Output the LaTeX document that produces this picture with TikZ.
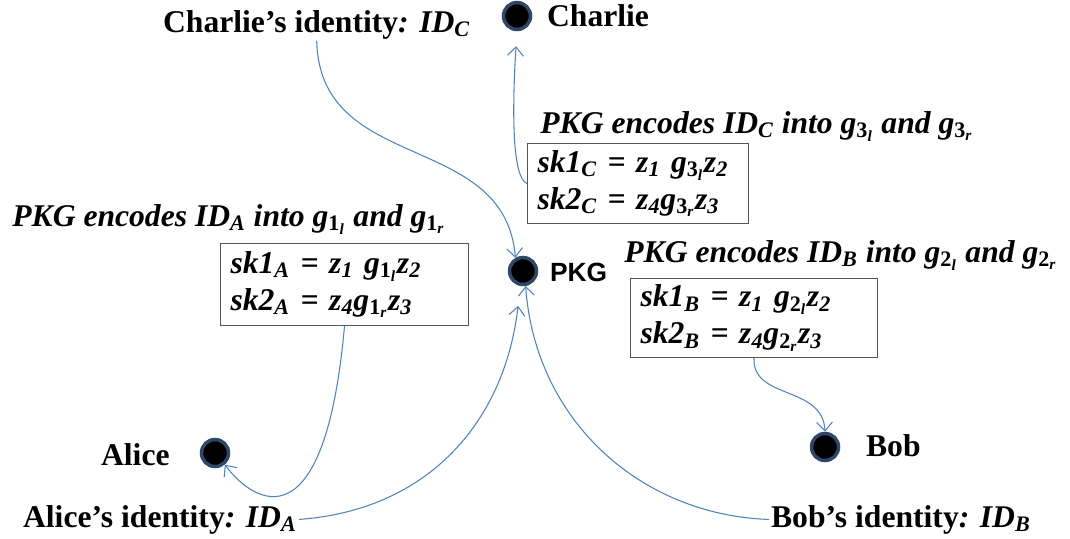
\documentclass[tikz,border=0pt]{standalone}
\usepackage{fontspec}
\setmainfont{Liberation Serif}
\newfontfamily\pkgfont{Liberation Sans}
\usetikzlibrary{arrows.meta}

\definecolor{flowblue}{RGB}{79,129,189}
\definecolor{dotrim}{RGB}{45,72,105}
\definecolor{boxgray}{RGB}{85,85,85}

\newcommand{\isub}[2]{\textit{#1}\textsubscript{\textit{#2}}}
\newcommand{\gsub}[2]{\textit{g}\textsubscript{\textup{#1}\textsubscript{\textit{#2}}}}
\newcommand{\idsub}[1]{\textit{ID}\textsubscript{\textit{#1}}}

\tikzset{
  party/.style={circle, fill=black, draw=dotrim, line width=2pt, minimum size=0.54cm, inner sep=0pt},
  partytag/.style={font=\fontsize{18}{21}\selectfont\bfseries, inner sep=1pt},
  enc/.style={font=\fontsize{18}{21}\selectfont\bfseries\itshape, inner sep=0pt},
  keybox/.style={draw=boxgray, line width=0.6pt, anchor=north west, align=left, inner xsep=0.2cm,
    font=\fontsize{18}{21}\selectfont\bfseries\itshape},
  flow/.style={->, draw=flowblue, line width=0.6pt},
  >={Straight Barb[length=5pt,width=9pt]}
}

\begin{document}
\begin{tikzpicture}[x=0.02cm,y=-0.02cm]
\useasboundingbox (0,0) rectangle (1070,538);

% the four parties
\node[party] (charlie) at (517,16) {};
\node[party] (pkg) at (523,271) {};
\node[party] (alice) at (215,453) {};
\node[party] (bob) at (825,447) {};

\node[partytag, anchor=base west] (charlietag) at (545,26) {Charlie};
\node[anchor=base west, inner sep=1pt, font=\pkgfont\bfseries\fontsize{15}{18}\selectfont] (pkgtag) at (548,281) {PKG};
\node[partytag, anchor=base west] (alicetag) at (99,465) {Alice};
\node[partytag, anchor=base west] (bobtag) at (864,456) {Bob};

% identities
\node[partytag, anchor=base west] (cid) at (161,32) {Charlie's identity\textit{: }\idsub{C}};
\node[partytag, anchor=base west] (aid) at (21,527) {Alice's identity\textit{: }\idsub{A}};
\node[partytag, anchor=base west] (bid) at (769,527) {Bob's identity\textit{: }\idsub{B}};

% private keys
\node[enc, anchor=base west] (encC) at (540,133) {PKG encodes \idsub{C} into \gsub{3}{l} and \gsub{3}{r}};
\node[keybox, text width=4.02cm, minimum height=1.6cm] (boxC) at (527,143)
  {\isub{sk1}{C} = \isub{z}{1} \gsub{3}{l}\isub{z}{2}\\ \isub{sk2}{C} = \isub{z}{4}\gsub{3}{r}\isub{z}{3}};

\node[enc, anchor=base west] (encA) at (12,226) {PKG encodes \idsub{A} into \gsub{1}{l} and \gsub{1}{r}};
\node[keybox, text width=4.56cm, minimum height=1.64cm] (boxA) at (220,243)
  {\isub{sk1}{A} = \isub{z}{1} \gsub{1}{l}\isub{z}{2}\\ \isub{sk2}{A} = \isub{z}{4}\gsub{1}{r}\isub{z}{3}};

\node[enc, anchor=base west] (encB) at (624,262) {PKG encodes \idsub{B} into \gsub{2}{l} and \gsub{2}{r}};
\node[keybox, text width=4.54cm, minimum height=1.58cm] (boxB) at (630,278)
  {\isub{sk1}{B} = \isub{z}{1} \gsub{2}{l}\isub{z}{2}\\ \isub{sk2}{B} = \isub{z}{4}\gsub{2}{r}\isub{z}{3}};

% flows
\draw[flow] (cid.south) .. controls (320,175) and (505,130) .. (pkg.120);
\draw[flow, shorten >=0.3cm] (boxC.west) .. controls (512,178) and (512,110) .. (charlie.south);
\draw[flow] (boxA.south) .. controls (325,545) and (255,505) .. (alice.-50);
\draw[flow, shorten >=0.4cm] (aid.east) .. controls (430,510) and (505,420) .. (pkg.-100);
\draw[flow] (bid.west) .. controls (640,515) and (535,420) .. (pkg.-80);
\draw[flow] (boxB.south) .. controls (752,400) and (823,385) .. (bob.north);
\end{tikzpicture}
\end{document}
